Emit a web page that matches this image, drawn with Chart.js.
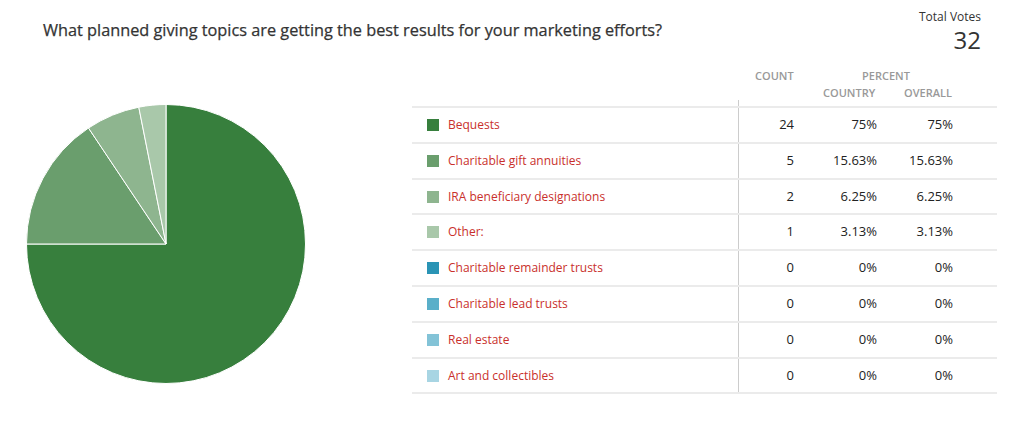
<!DOCTYPE html>
<html>
<head>
<meta charset="utf-8">
<script src="https://cdn.jsdelivr.net/npm/chart.js@4"></script>
<style>
  body { margin: 0; width: 1024px; height: 432px; background: #fff; font-family: 'Open Sans', sans-serif; position: relative; overflow: hidden; }
  #title { position: absolute; left: 43px; top: 19px; font-size: 16.3px; color: #333; -webkit-text-stroke: 0.25px #333; }
  #votesLbl { position: absolute; right: 43px; top: 8px; font-size: 12px; color: #333; }
  #votesNum { position: absolute; right: 43px; top: 23px; font-size: 24px; color: #333; }
  #pieBox { position: absolute; left: 24px; top: 102px; width: 284px; height: 284px; }
  .hdr { position: absolute; font-size: 11px; font-weight: 600; color: #999; text-transform: uppercase; }
  .line { position: absolute; left: 412px; width: 585px; height: 2px; background: #ebebeb; }
  .vdiv { position: absolute; left: 738px; width: 1px; background: #ccc; }
  .sw { position: absolute; left: 427px; width: 12px; height: 12px; }
  .lbl { position: absolute; left: 448px; font-size: 12px; color: #c9302c; }
  .num { position: absolute; font-size: 13px; color: #222; text-align: right; width: 80px; }
</style>
</head>
<body>
<div id="title">What planned giving topics are getting the best results for your marketing efforts?</div>
<div id="votesLbl">Total Votes</div>
<div id="votesNum">32</div>
<div id="pieBox"><canvas id="pie"></canvas></div>
<div id="table"></div>
<script>
const categories = ['Bequests', 'Charitable gift annuities', 'IRA beneficiary designations', 'Other:', 'Charitable remainder trusts', 'Charitable lead trusts', 'Real estate', 'Art and collectibles'];
const counts = [24, 5, 2, 1, 0, 0, 0, 0];
const countryPct = ['75%', '15.63%', '6.25%', '3.13%', '0%', '0%', '0%', '0%'];
const overallPct = ['75%', '15.63%', '6.25%', '3.13%', '0%', '0%', '0%', '0%'];
const colors = ['#377f3d', '#6a9e6d', '#8eb58f', '#a9c8aa', '#2a94b5', '#5aafc9', '#83c3d7', '#a8d5e3'];

// table on the right
const table = document.getElementById('table');
let html = '';
html += '<div class="hdr" style="left:755px;top:68px">Count</div>';
html += '<div class="hdr" style="left:862px;top:68px">Percent</div>';
html += '<div class="hdr" style="left:823px;top:85px">Country</div>';
html += '<div class="hdr" style="left:904px;top:85px">Overall</div>';
const top0 = 106, rowH = 35.8;
html += '<div class="vdiv" style="top:100px;height:293px"></div>';
categories.forEach((c, i) => {
    const y = top0 + i * rowH;
    html += '<div class="line" style="top:' + y + 'px"></div>';
    const mid = y + rowH / 2 + 1;
    html += '<div class="sw" style="top:' + (mid - 6) + 'px;background:' + colors[i] + '"></div>';
    html += '<div class="lbl" style="top:' + (mid - 9) + 'px">' + c + '</div>';
    html += '<div class="num" style="left:714px;top:' + (mid - 10) + 'px">' + counts[i] + '</div>';
    html += '<div class="num" style="left:797px;top:' + (mid - 10) + 'px">' + countryPct[i] + '</div>';
    html += '<div class="num" style="left:873px;top:' + (mid - 10) + 'px">' + overallPct[i] + '</div>';
});
html += '<div class="line" style="top:' + (top0 + categories.length * rowH) + 'px"></div>';
table.innerHTML = html;

new Chart(document.getElementById('pie').getContext('2d'), {
    type: 'pie',
    data: {
        labels: categories,
        datasets: [{
            data: counts,
            backgroundColor: colors,
            borderColor: '#ffffff',
            borderWidth: 1
        }]
    },
    options: {
        responsive: true,
        maintainAspectRatio: false,
        animation: false,
        plugins: {
            legend: { display: false },
            tooltip: { enabled: false }
        },
        layout: { padding: 2 }
    }
});
</script>
</body>
</html>
